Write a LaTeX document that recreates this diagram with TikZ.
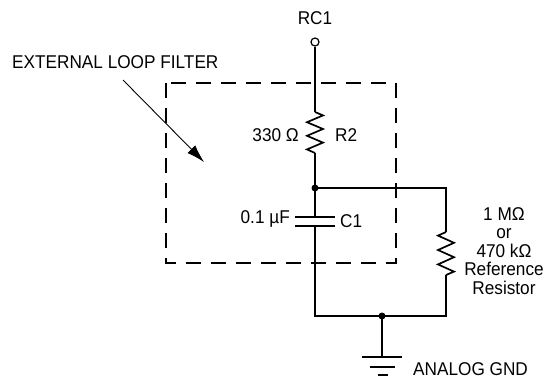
\documentclass[tikz,border=0pt]{standalone}
\usepackage{fontspec}
\setmainfont[FakeStretch=0.93]{Liberation Sans}
\usetikzlibrary{arrows.meta}
\begin{document}
\begin{tikzpicture}[x=1pt,y=-1pt,
  wire/.style={line width=1.7pt},
  lbl/.style={inner sep=0pt,font=\fontsize{18.5}{18.5}\selectfont},
  dot/.style={circle,fill=black,inner sep=0pt,minimum size=7pt},
  boxline/.style={line width=1.7pt,dash pattern=on 15pt off 10pt}]
\useasboundingbox (0,0) rectangle (544,381);
% terminal
\node[lbl] (rc1) at (315,18) {RC1};
\node[circle,draw,line width=1.2pt,inner sep=0pt,minimum size=8pt] (term) at (315,42) {};
\coordinate (r2t) at (315,112);
\coordinate (r2b) at (315,153);
\node[dot] (j1) at (315,188) {};
\coordinate (c1t) at (315,217);
\coordinate (c1b) at (315,226);
\coordinate (bl) at (315,316);
\node[dot] (j2) at (382,316) {};
\coordinate (br) at (446,316);
\coordinate (tr) at (446,188);
\coordinate (r3t) at (446,232);
\coordinate (r3b) at (446,275);
\coordinate (g) at (382,357);
% wires
\draw[wire] (term.south) -- (r2t);
\draw[wire,line join=miter] (r2t) -- ++(8,3.4) -- ++(-16,6.8) -- ++(16,6.8) -- ++(-16,6.8) -- ++(16,6.8) -- ++(-16,6.8) -- (r2b);
\draw[wire] (r2b) -- (j1.center) -- (c1t);
\draw[wire] (295,217) -- (335,217);
\draw[wire] (295,226) -- (335,226);
\draw[wire] (c1b) -- (bl) -- (j2.center) -- (br) -- (r3b);
\draw[wire] (j1.center) -- (tr) -- (r3t);
\draw[wire,line join=miter] (r3t) -- ++(-8,3.6) -- ++(16,7.2) -- ++(-16,7.2) -- ++(16,7.2) -- ++(-16,7.2) -- ++(16,7.2) -- (r3b);
\draw[wire] (j2.center) -- (g);
\draw[wire] (362,357) -- (402,357);
\draw[wire] (370,367) -- (395,367);
\draw[wire] (378,375) -- (388,375);
% dashed box
\draw[boxline] (166,83) rectangle (396,263);
% labels
\node[lbl,anchor=east] (l330) at (299,135) {330 Ω};
\node[lbl,anchor=west] (lr2) at (335,135) {R2};
\node[lbl,anchor=east] (l01) at (290,219) {0.1 µF};
\node[lbl,anchor=west] (lc1) at (340,221) {C1};
\node[lbl,align=center] (lref) at (504,251) {1 MΩ\\or\\470 kΩ\\Reference\\Resistor};
\node[lbl,anchor=west] (gnd) at (413,369) {ANALOG GND};
\node[lbl,anchor=west] (ext) at (12,62) {EXTERNAL LOOP FILTER};
\coordinate (a1) at (123,80);
\coordinate (a2) at (204,162);
\draw[line width=0.9pt,-{Latex[length=18pt,width=11pt]}] (a1) -- (a2);
\end{tikzpicture}
\end{document}
